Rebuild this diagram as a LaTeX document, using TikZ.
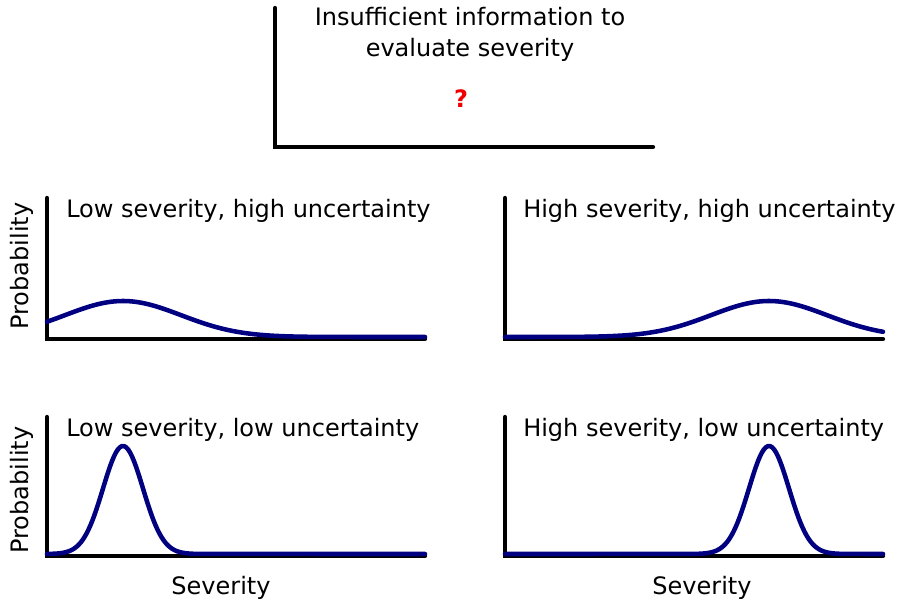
\documentclass[tikz,border=0pt]{standalone}
\usepackage{fontspec}
\setmainfont{DejaVu Sans}
\usetikzlibrary{positioning}
\definecolor{curveblue}{RGB}{0,0,128}
\definecolor{qred}{RGB}{240,0,0}

\begin{document}
\begin{tikzpicture}[x=0.75pt,y=-0.75pt,
  axis/.style={line width=3.2pt,black,line cap=round,line join=miter},
  curve/.style={line width=3.4pt,curveblue,line cap=round,line join=round},
  txt/.style={font=\fontsize{18}{23.25}\selectfont,inner sep=0pt}]
  \useasboundingbox (0,0) rectangle (897,602);

  % top panel: no information
  \draw[axis] (275,8) -- (275,147) -- (653,147);
  \node[txt,align=center,anchor=base] (info) at (470,57) {Insufficient information to\\evaluate severity};
  \node[txt,anchor=base,text=qred,font=\fontsize{18}{20}\selectfont\bfseries] (qmark) at (461,108) {?};

  % middle row
  \draw[axis] (47,198) -- (47,339) -- (425,339);
  \draw[axis] (505,198) -- (505,339) -- (883,339);
  \node[txt,anchor=base west] (lowhigh) at (66,218) {Low severity, high uncertainty};
  \node[txt,anchor=base west] (highhigh) at (523,218) {High severity, high uncertainty};
  \node[txt,rotate=90] (probtop) at (22,266) {Probability};
  \draw[curve] plot[domain=47:425,samples=90] (\x,{337-36*exp(-0.5*((\x-123)/58)^2)});
  \draw[curve] plot[domain=505:883,samples=90] (\x,{337-36*exp(-0.5*((\x-769)/58)^2)});

  % bottom row
  \draw[axis] (47,417) -- (47,556) -- (425,556);
  \draw[axis] (505,417) -- (505,556) -- (883,556);
  \node[txt,anchor=base west] (lowlow) at (66,437) {Low severity, low uncertainty};
  \node[txt,anchor=base west] (highlow) at (523,437) {High severity, low uncertainty};
  \node[txt,rotate=90] (probbot) at (22,490) {Probability};
  \draw[curve] (47,554) -- plot[domain=47:203,samples=80] (\x,{554-108*exp(-0.5*((\x-123)/20)^2)}) -- (425,554);
  \draw[curve] (505,554) -- plot[domain=689:849,samples=80] (\x,{554-108*exp(-0.5*((\x-769)/20)^2)}) -- (883,554);
  \node[txt,anchor=base] (sevleft) at (221,594) {Severity};
  \node[txt,anchor=base] (sevright) at (702,594) {Severity};
\end{tikzpicture}
\end{document}
